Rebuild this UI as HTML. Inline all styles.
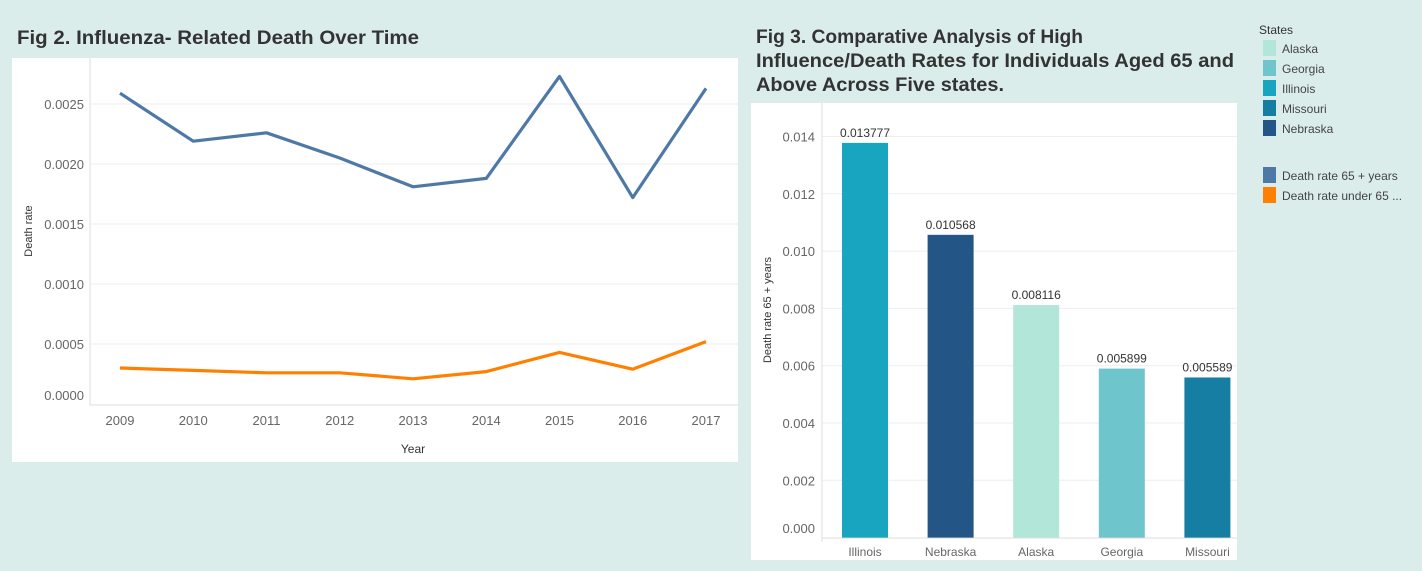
<!DOCTYPE html>
<html><head><meta charset="utf-8"><style>
body{margin:0;width:1422px;height:571px;background:#dbedeb;font-family:"Liberation Sans",sans-serif;overflow:hidden;position:relative}
svg{position:absolute;left:0;top:0}
</style></head><body>
<svg id="s" width="1422" height="571">
<text x="17" y="44" font-size="19" font-weight="bold" fill="#333" textLength="402" lengthAdjust="spacingAndGlyphs">Fig 2. Influenza- Related Death Over Time</text>
<g font-size="19" font-weight="bold" fill="#333">
<text x="756" y="43" textLength="327" lengthAdjust="spacingAndGlyphs">Fig 3. Comparative Analysis of High</text>
<text x="756" y="67" textLength="478" lengthAdjust="spacingAndGlyphs">Influence/Death Rates for Individuals Aged 65 and</text>
<text x="756" y="91" textLength="248" lengthAdjust="spacingAndGlyphs">Above Across Five states.</text>
</g>
</svg>
<script>
const years=["2009","2010","2011","2012","2013","2014","2015","2016","2017"];
const rate65=[0.00259,0.00219,0.00226,0.00205,0.00181,0.00188,0.00273,0.00172,0.00263];
const rateUnder65=[0.00030,0.00028,0.00026,0.00026,0.00021,0.00027,0.00043,0.00029,0.00052];
const lineTicks=["0.0000","0.0005","0.0010","0.0015","0.0020","0.0025"];
const states=["Illinois","Nebraska","Alaska","Georgia","Missouri"];
const stateValues=[0.013777,0.010568,0.008116,0.005899,0.005589];
const stateColors=["#17a5bf","#235587","#b2e6d9","#6fc5cc","#177ea3"];
const barTicks=["0.000","0.002","0.004","0.006","0.008","0.010","0.012","0.014"];
const legendStates=["Alaska","Georgia","Illinois","Missouri","Nebraska"];
const legendStateColors=["#b2e6d9","#6fc5cc","#17a5bf","#177ea3","#235587"];
const legendMeasures=["Death rate 65 + years","Death rate under 65 ..."];
const legendMeasureColors=["#4e79a7","#ff8000"];

const s=document.getElementById('s');const NS="http://www.w3.org/2000/svg";
function el(t,a,txt){const e=document.createElementNS(NS,t);for(const k in a)e.setAttribute(k,a[k]);if(txt!=null)e.textContent=txt;s.insertBefore(e,s.firstChild&&t==='rect'&&a.panel?s.firstChild:null);return e;}
// left panel
let p=el('rect',{x:12,y:58,width:726,height:404,fill:'#fff',panel:1});


const ly=v=>404-v/0.0005*60, lx=i=>120+i*73.25;
lineTicks.forEach(t=>{const v=+t,y=ly(v);
 if(v>0){const g=el('line',{x1:90,x2:738,y1:y,y2:y,stroke:'#eee'});}
 const tx=el('text',{x:84,y:(v==0?395:y)+5,'text-anchor':'end','font-size':13,fill:'#666'},t);
 });
el('line',{x1:90,x2:90,y1:58,y2:405,stroke:'#ddd'});
el('line',{x1:90,x2:738,y1:405,y2:405,stroke:'#ddd'});
years.forEach((y,i)=>{const t=el('text',{x:lx(i),y:425,'text-anchor':'middle','font-size':13,fill:'#666'},y);
 });
let xt=el('text',{x:413,y:453,'text-anchor':'middle','font-size':12,fill:'#333'},'Year');

let yt=el('text',{x:0,y:0,transform:'translate(32,231) rotate(-90)','text-anchor':'middle','font-size':11,fill:'#333'},'Death rate');

[[rate65,'#4e79a7','line-65-plus'],[rateUnder65,'#ff8000','line-under-65']].forEach(([d,c,n])=>{
 const l=el('polyline',{points:d.map((v,i)=>lx(i)+','+ly(v)).join(' '),fill:'none',stroke:c,'stroke-width':3.2,'stroke-linejoin':'round'});
 });
// right panel
p=el('rect',{x:751,y:103,width:486,height:457,fill:'#fff',panel:1});


const by=v=>537.6-v/0.002*57.3, bx=i=>865+i*85.6;
barTicks.forEach(t=>{const v=+t,y=by(v);
 if(v>0){const g=el('line',{x1:822,x2:1237,y1:y,y2:y,stroke:'#eee'});}
 const tx=el('text',{x:815,y:(v==0?528:y)+5,'text-anchor':'end','font-size':13,fill:'#666'},t);
 });
el('line',{x1:822,x2:822,y1:103,y2:542,stroke:'#ddd'});
el('line',{x1:822,x2:1237,y1:538,y2:538,stroke:'#ddd'});
yt=el('text',{x:0,y:0,transform:'translate(771,310) rotate(-90)','text-anchor':'middle','font-size':11,fill:'#333'},'Death rate 65 + years');

states.forEach((st,i)=>{const v=stateValues[i];
 const r=el('rect',{x:bx(i)-23,y:by(v),width:46,height:537.6-by(v),fill:stateColors[i]});
 
 const lb=el('text',{x:bx(i),y:by(v)-6,'text-anchor':'middle','font-size':12,fill:'#333'},v.toFixed(6));
 
 const c=el('text',{x:bx(i),y:556,'text-anchor':'middle','font-size':12,fill:'#666'},st);
 });
// legend
let lt=el('text',{x:1259,y:34,'font-size':12,fill:'#333'},'States');

legendStates.forEach((n,i)=>{const y=40+i*20;
 const r=el('rect',{x:1263,y:y,width:13,height:16,fill:legendStateColors[i]});
 
 const t=el('text',{x:1282,y:y+13,'font-size':12,fill:'#444'},n);
 });
legendMeasures.forEach((n,i)=>{const y=167+i*20;
 const r=el('rect',{x:1263,y:y,width:13,height:16,fill:legendMeasureColors[i]});
 
 const t=el('text',{x:1282,y:y+13,'font-size':12,fill:'#444'},n);
 });
</script>
</body></html>
